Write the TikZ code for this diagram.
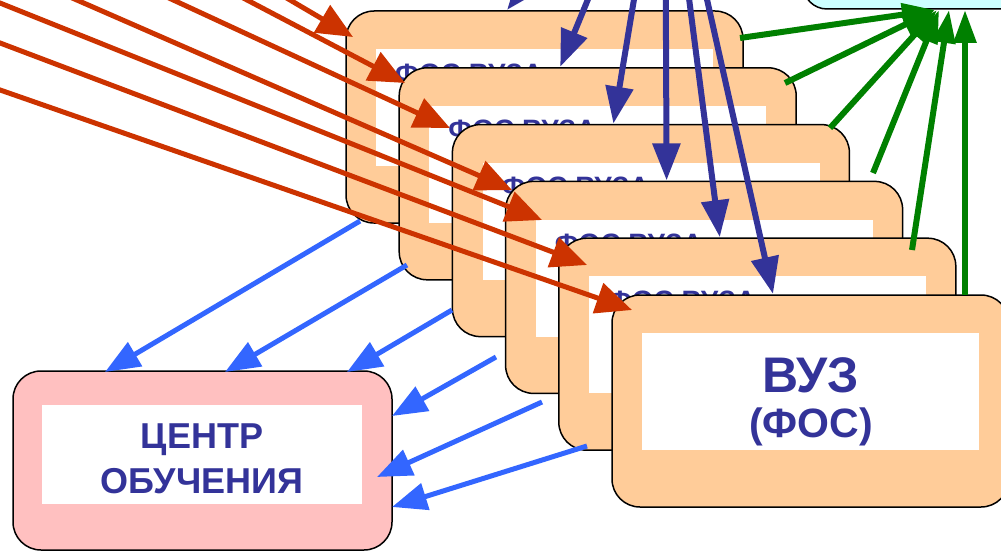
\documentclass[tikz,border=0pt]{standalone}
\usepackage{fontspec}
\setmainfont{Liberation Sans}
\usetikzlibrary{arrows.meta}
\definecolor{peach}{HTML}{FFCC99}
\definecolor{pinkbox}{HTML}{FFC0C0}
\definecolor{cyanbox}{HTML}{CCFFFF}
\definecolor{txtblue}{HTML}{333399}
\definecolor{redarr}{HTML}{CC3300}
\definecolor{ltblue}{HTML}{3366FF}
\definecolor{grn}{HTML}{008000}
\begin{document}
\begin{tikzpicture}[x=1pt,y=-1pt,
  vuzbox/.style={draw=black, line width=1.5pt, rounded corners=28pt, fill=peach,
    minimum width=397pt, minimum height=212pt, anchor=north west, inner sep=0pt, outer sep=0pt},
  centerbox/.style={draw=black, line width=1.5pt, rounded corners=28pt, fill=pinkbox,
    minimum width=379pt, minimum height=179pt, anchor=north west, inner sep=0pt, outer sep=0pt},
  topbox/.style={draw=black, line width=1.5pt, rounded corners=24pt, fill=cyanbox,
    minimum width=300pt, minimum height=49pt, anchor=north west, inner sep=0pt, outer sep=0pt},
  innerw/.style={fill=white, minimum width=337pt, minimum height=117pt, anchor=north west, inner sep=0pt},
  innerc/.style={fill=white, minimum width=320pt, minimum height=99pt, anchor=north west, inner sep=0pt},
  fostext/.style={anchor=base west, inner sep=0pt, text=txtblue, font=\bfseries\fontsize{28}{32}\selectfont},
  bigtext/.style={anchor=base, inner sep=0pt, text=txtblue, font=\bfseries\fontsize{50}{56}\selectfont},
  midtext/.style={anchor=base, inner sep=0pt, text=txtblue, font=\bfseries\fontsize{41}{46}\selectfont},
  ctext/.style={anchor=base, inner sep=0pt, text=txtblue, font=\bfseries\fontsize{36}{40}\selectfont},
  redarrow/.style={draw=redarr, line width=5pt, -{Triangle[length=36pt,width=31pt]}},
  darkarrow/.style={draw=txtblue, line width=6pt, -{Triangle[length=37pt,width=27pt]}},
  greenarrow/.style={draw=grn, line width=6pt, -{Triangle[length=33pt,width=22pt]}},
  bluearrow/.style={draw=ltblue, line width=5pt, -{Triangle[length=35pt,width=27pt]}}
]
\useasboundingbox (0,0) rectangle (1001,551);
\clip (0,0) rectangle (1001,551);

% top-right target box
\node[topbox] (top) at (803,-40) {};

% stacked boxes
\foreach \i in {1,...,5} {
  \pgfmathsetmacro\bx{346+53.2*(\i-1)}
  \pgfmathsetmacro\by{11+56.8*(\i-1)}
  \node[vuzbox] (b\i) at (\bx,\by) {};
  \node[innerw] (w\i) at (\bx+30,\by+38) {};
  \node[fostext] (t\i) at (\bx+49,\by+72) {ФОС ВУЗА};
}
\node[vuzbox] (b6) at (612,295) {};
\node[innerw] (w6) at (642,333) {};
\node[bigtext] (vuz) at (811,392) {ВУЗ};
\node[midtext] (fos) at (811,437) {(ФОС)};

% training centre
\node[centerbox] (cb) at (13,371) {};
\node[innerc] (cw) at (42,405) {};
\node[ctext] (c1) at (202,448) {ЦЕНТР};
\node[ctext] (c2) at (202,493) {ОБУЧЕНИЯ};

% red arrows
\coordinate (rs1) at (256,-20);  \coordinate (rt1) at (353,37);
\coordinate (rs2) at (209,-20);  \coordinate (rt2) at (405,83);
\coordinate (rs3) at (130,-20);  \coordinate (rt3) at (450,128);
\coordinate (rs4) at (31,-20);   \coordinate (rt4) at (512,190);
\coordinate (rs5) at (-20,-5);   \coordinate (rt5) at (542,220);
\coordinate (rs6) at (-20,35.4); \coordinate (rt6) at (587,265);
\coordinate (rs7) at (-20,83);   \coordinate (rt7) at (632,310);
\foreach \i in {1,...,7} { \draw[redarrow] (rs\i) -- (rt\i); }

% dark blue arrows
\coordinate (dsrc) at (665,-188);
\foreach \i in {1,...,6} {
  \coordinate (dt\i) at ({507+53.2*(\i-1)},{10+56.8*(\i-1)});
  \draw[darkarrow] (dsrc) -- (dt\i);
}

% green arrows
\coordinate (gs1) at (740,38);  \coordinate (gt1) at (935,10);
\coordinate (gs2) at (785,83);  \coordinate (gt2) at (935,10);
\coordinate (gs3) at (830,128); \coordinate (gt3) at (937,10);
\coordinate (gs4) at (873,173); \coordinate (gt4) at (939,10);
\coordinate (gs5) at (912,250); \coordinate (gt5) at (949,10);
\coordinate (gs6) at (965,295); \coordinate (gt6) at (965,10);
\foreach \i in {1,...,6} { \draw[greenarrow] (gs\i) -- (gt\i); }

% light blue arrows
\coordinate (ls1) at (360,221); \coordinate (lt1) at (105,372);
\coordinate (ls2) at (407,265); \coordinate (lt2) at (225,372);
\coordinate (ls3) at (452,310); \coordinate (lt3) at (347,372);
\coordinate (ls4) at (496,357); \coordinate (lt4) at (392,416);
\coordinate (ls5) at (542,402); \coordinate (lt5) at (377,477);
\coordinate (ls6) at (587,446); \coordinate (lt6) at (392,507);
\foreach \i in {1,...,6} { \draw[bluearrow] (ls\i) -- (lt\i); }
\end{tikzpicture}
\end{document}
